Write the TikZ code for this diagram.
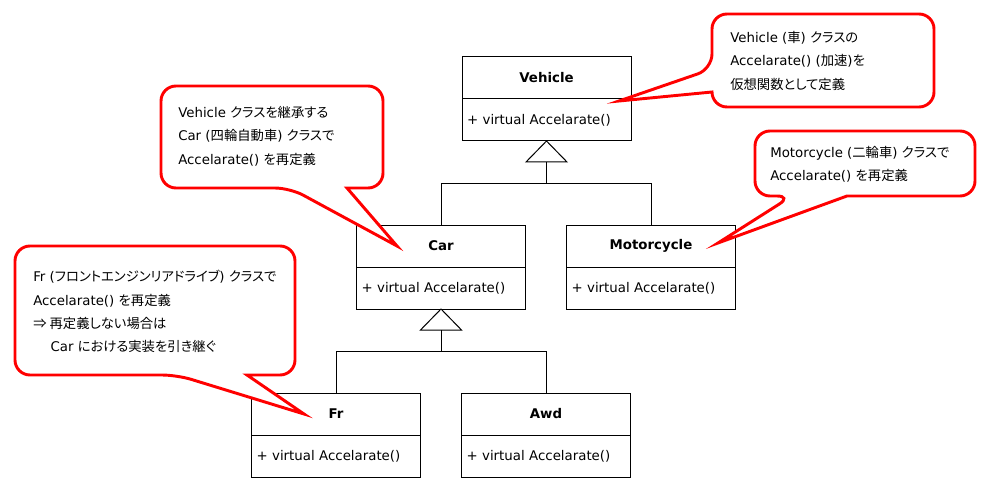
\documentclass[tikz,border=0pt]{standalone}
\usepackage{fontspec}
\setmainfont{DejaVu Sans}
\newfontfamily\jpfont[RawFeature=+palt]{Noto Sans CJK JP}
\usetikzlibrary{positioning}

\tikzset{
    clshead/.style={draw, line width=0.75pt, outer sep=0pt, minimum width=126.75pt, minimum height=31.5pt, inner sep=0pt, font=\fontsize{10}{12}\selectfont\bfseries},
    clsbody/.style={draw, line width=0.75pt, outer sep=0pt, minimum height=31.5pt, text width=119.25pt, inner xsep=3.75pt, inner ysep=0pt, align=left, font=\fontsize{10}{12}\selectfont},
    inherit/.style={line width=0.75pt},
    note/.style={draw=red, fill=white, line width=2.2pt, rounded corners=11.25pt},
    notetext/.style={anchor=north west, inner sep=0pt, align=left, font=\fontsize{10}{17.5}\selectfont}
}

\begin{document}
\begin{tikzpicture}[x=0.75pt,y=-0.75pt]

    \useasboundingbox (0,0) rectangle (990,492);

    \node[clshead] (vehicle) at (546.5,78) {Vehicle};
    \node[clsbody, below=0pt of vehicle] (vehicleOps) {+ virtual Accelarate()};

    \node[clshead] (car) at (441,246) {Car};
    \node[clsbody, below=0pt of car] (carOps) {+ virtual Accelarate()};

    \node[clshead] (moto) at (651,246) {Motorcycle};
    \node[clsbody, below=0pt of moto] (motoOps) {+ virtual Accelarate()};

    \node[clshead] (fr) at (336,414) {Fr};
    \node[clsbody, below=0pt of fr] (frOps) {+ virtual Accelarate()};

    \node[clshead] (awd) at (546,414) {Awd};
    \node[clsbody, below=0pt of awd] (awdOps) {+ virtual Accelarate()};

    % generalization
    \draw[inherit] (vehicleOps.south) -- ++(-20.5,21) -- ++(41,0) -- cycle;
    \draw[inherit] (vehicleOps.south) ++(0,21) -- ++(0,21) coordinate (vehicleJoin);
    \draw[inherit] (vehicleJoin) -| (car.north);
    \draw[inherit] (vehicleJoin) -| (moto.north);

    \draw[inherit] (carOps.south) -- ++(-20.5,21) -- ++(41,0) -- cycle;
    \draw[inherit] (carOps.south) ++(0,21) -- ++(0,21) coordinate (carJoin);
    \draw[inherit] (carJoin) -| (fr.north);
    \draw[inherit] (carJoin) -| (awd.north);

    % callouts
    \coordinate (vehicleTip) at (619,101);
    \coordinate (carTip) at (397,246);
    \coordinate (motoTip) at (718,243);
    \coordinate (frTip) at (304,414);

    \draw[note] (823,14) -- (712,14) -- (712,69) [sharp corners] -- (vehicleTip) -- (712,92) [rounded corners=11.25pt] -- (712,107) -- (934,107) -- (934,14) -- cycle;
    \node[notetext] (vehicleNote) at (730,31) {Vehicle ({\jpfont 車}) {\jpfont クラスの}\\Accelarate() ({\jpfont 加速}){\jpfont を}\\{\jpfont 仮想関数として定義}};

    \draw[note] (272,86) -- (161,86) -- (161,188) -- (290,188) [sharp corners] -- (carTip) -- (347,188) [rounded corners=11.25pt] -- (383,188) -- (383,86) -- cycle;
    \node[notetext] (carNote) at (178,106) {Vehicle {\jpfont クラスを継承する}\\Car ({\jpfont 四輪自動車}) {\jpfont クラスで}\\Accelarate() {\jpfont を再定義}};

    \draw[note] (865,131) -- (755,131) -- (755,196) -- (792,196) [sharp corners] -- (motoTip) -- (847,196) [rounded corners=11.25pt] -- (975,196) -- (975,131) -- cycle;
    \node[notetext] (motoNote) at (770,146) {Motorcycle ({\jpfont 二輪車}) {\jpfont クラスで}\\Accelarate() {\jpfont を再定義}};

    \draw[note] (155,246) -- (15,246) -- (15,375) -- (177,375) [sharp corners] -- (frTip) -- (247,375) [rounded corners=11.25pt] -- (295,375) -- (295,246) -- cycle;
    \node[notetext] (frNote) at (33,270) {Fr ({\jpfont フロントエンジンリアドライブ}) {\jpfont クラスで}\\Accelarate() {\jpfont を再定義}\\{\jpfont ⇒ 再定義しない場合は}\\\hspace*{13pt}Car {\jpfont における実装を引き継ぐ}};

\end{tikzpicture}
\end{document}
